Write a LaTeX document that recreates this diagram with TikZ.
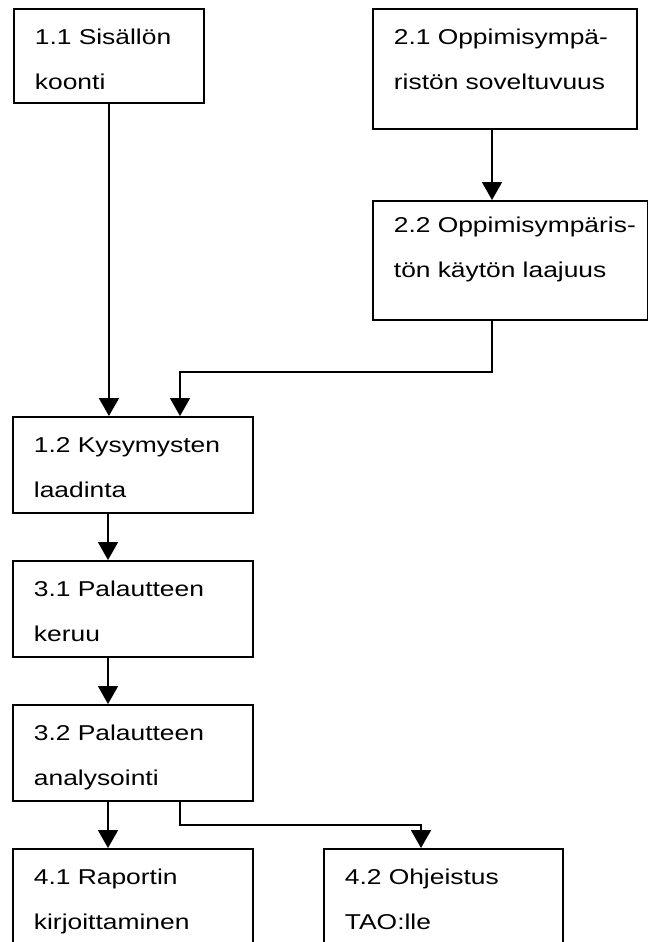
\documentclass[tikz,border=0pt]{standalone}
\usepackage{fontspec}
\usepackage{tikz}
\usetikzlibrary{arrows.meta,calc}
\newfontfamily\boxfont[FakeStretch=1.23]{Liberation Sans}

\tikzset{
  stepbox/.style={draw, line width=1.4pt, anchor=north west, align=left,
    inner xsep=15.75pt, inner ysep=0pt, text height=27pt,
    font=\boxfont\fontsize{16.1pt}{33.75pt}\selectfont,
    execute at begin node={\hyphenpenalty=10000\exhyphenpenalty=10000}},
  flow/.style={line width=1.4pt, -{Triangle[width=15pt,length=13.5pt]}},
}

\begin{document}
\begin{tikzpicture}[x=0.75pt,y=-0.75pt]
  \useasboundingbox (0,0) rectangle (648,942);

  % Process steps (pixel grid of the page)
  \node[stepbox, text width=111pt, text depth=43.5pt] (B11) at (13,8)
    {1.1 Sisällön\\koonti};
  \node[stepbox, text width=166.5pt, text depth=63pt] (B21) at (372,8)
    {2.1 Oppimisympä-\\ristön soveltuvuus};
  \node[stepbox, text width=174.4pt, text height=24pt, text depth=65.25pt] (B22) at (372,200)
    {2.2~Oppimisympäris-\\tön käytön laajuus};
  \node[stepbox, text width=148.5pt, text depth=45pt] (B12) at (12,416)
    {1.2 Kysymysten\\laadinta};
  \node[stepbox, text width=148.5pt, text depth=45pt] (B31) at (12,560)
    {3.1 Palautteen\\keruu};
  \node[stepbox, text width=148.5pt, text depth=45pt] (B32) at (12,704)
    {3.2 Palautteen\\analysointi};
  \node[stepbox, text width=148.5pt, text depth=63pt] (B41) at (12,848)
    {4.1 Raportin\\kirjoittaminen};
  \node[stepbox, text width=147.75pt, text depth=63pt] (B42) at (323,848)
    {4.2 Ohjeistus\\TAO:lle};

  % Flow between steps
  \draw[flow] (B11.south) -- (B11.south |- B12.north);
  \draw[flow] ([xshift=90pt]B21.south west) -- ([xshift=90pt]B21.south west |- B22.north);
  \draw[flow] ([xshift=90pt]B22.south west) -- ++(0,51) -| ([xshift=126pt]B12.north west);
  \draw[flow] ([xshift=72pt]B12.south west) -- ([xshift=72pt]B31.north west);
  \draw[flow] ([xshift=72pt]B31.south west) -- ([xshift=72pt]B32.north west);
  \draw[flow] ([xshift=72pt]B32.south west) -- ([xshift=72pt]B41.north west);
  \draw[flow] ([xshift=126pt]B32.south west) -- ++(0,23) -| ([xshift=73.5pt]B42.north west);
\end{tikzpicture}
\end{document}
